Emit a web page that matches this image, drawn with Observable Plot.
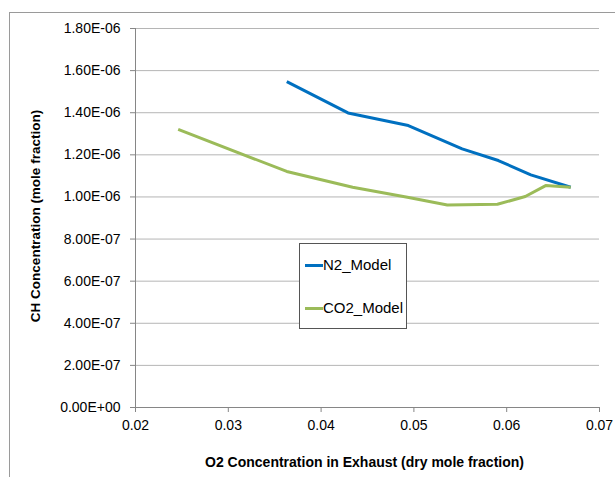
<!DOCTYPE html>
<html>
<head>
<meta charset="utf-8">
<script src="https://cdn.jsdelivr.net/npm/d3@7"></script>
<script src="https://cdn.jsdelivr.net/npm/@observablehq/plot@0.6"></script>
<style>
  html, body { margin: 0; padding: 0; background: #fff; }
  #wrap { position: relative; width: 615px; height: 477px; overflow: hidden; font-family: "Liberation Sans", Arial, sans-serif; }
  #border { position: absolute; left: 9px; top: 12px; width: 700px; height: 600px; border-left: 1px solid #9a9a9a; border-top: 1px solid #9a9a9a; }
  #chart { position: absolute; left: 0; top: 0; }
  #legend { position: absolute; left: 299px; top: 243px; width: 106px; height: 84px; border: 1px solid #555; background: #fff; font-size: 15px; color: #000; }
  .item { position: absolute; left: 5px; display: flex; align-items: center; line-height: 18px; }
  .sw { width: 18px; height: 3px; margin-right: 0px; }
</style>
</head>
<body>
<div id="wrap">
  <div id="border"></div>
  <div id="chart"></div>
  <div id="legend"></div>
</div>
<script>
const seriesNames = ["N2_Model", "CO2_Model"];
const seriesColors = ["#0070C0", "#9BBB59"];

const n2X = [0.0363, 0.0429, 0.0494, 0.0552, 0.0591, 0.0626, 0.0669];
const n2Y = [1.548e-6, 1.399e-6, 1.339e-6, 1.228e-6, 1.173e-6, 1.105e-6, 1.046e-6];

const co2X = [0.0246, 0.0363, 0.0434, 0.0493, 0.0536, 0.0590, 0.0620, 0.0642, 0.0669];
const co2Y = [1.321e-6, 1.121e-6, 1.046e-6, 0.999e-6, 0.962e-6, 0.965e-6, 1.002e-6, 1.054e-6, 1.046e-6];

const xTicks = [0.02, 0.03, 0.04, 0.05, 0.06, 0.07];
const yTicks = [0, 2e-7, 4e-7, 6e-7, 8e-7, 1e-6, 1.2e-6, 1.4e-6, 1.6e-6, 1.8e-6];

const xTitle = "O2 Concentration in Exhaust (dry mole fraction)";
const yTitle = "CH Concentration (mole fraction)";

const data = [
  ...n2X.map((x, i) => ({series: seriesNames[0], x, y: n2Y[i]})),
  ...co2X.map((x, i) => ({series: seriesNames[1], x, y: co2Y[i]}))
];

function fmtE(v) {
  const s = v.toExponential(2);
  const [m, e] = s.split("e");
  const n = parseInt(e, 10);
  return m + "E" + (n < 0 ? "-" : "+") + String(Math.abs(n)).padStart(2, "0");
}

const chart = Plot.plot({
  width: 615,
  height: 477,
  marginLeft: 135,
  marginRight: 16,
  marginTop: 28,
  marginBottom: 70,
  style: {fontFamily: "Liberation Sans, Arial, sans-serif", fontSize: "14px", background: "transparent", color: "#000"},
  x: {domain: [0.02, 0.07]},
  y: {domain: [0, 1.8e-6]},
  color: {domain: seriesNames, range: seriesColors},
  marks: [
    Plot.ruleY(yTicks, {stroke: "#b5b5b5", strokeWidth: 1}),
    Plot.ruleY([0], {stroke: "#868686", strokeWidth: 1}),
    Plot.ruleX([0.02], {stroke: "#868686", strokeWidth: 1}),
    Plot.axisY({ticks: yTicks, tickFormat: fmtE, tickSize: 5, tickPadding: 10, stroke: "#868686", fill: "#000", fontSize: 14, label: null}),
    Plot.axisX({ticks: xTicks, tickFormat: d => d.toFixed(2), tickSize: 5, tickPadding: 8, stroke: "#868686", fill: "#000", fontSize: 14, label: null}),
    Plot.line(data, {x: "x", y: "y", z: "series", stroke: "series", strokeWidth: 3, strokeLinejoin: "round", strokeLinecap: "butt"}),
    Plot.text([xTitle], {frameAnchor: "bottom", dx: -3, dy: 55, lineAnchor: "middle", fontWeight: "bold", fontSize: 14, fill: "#000"}),
    Plot.text([yTitle], {frameAnchor: "left", dx: -100, dy: -2, rotate: -90, textAnchor: "middle", lineAnchor: "middle", fontWeight: "bold", fontSize: 13.5, fill: "#000"})
  ]
});
document.getElementById("chart").appendChild(chart);

const legend = document.getElementById("legend");
const tops = [12, 55];
seriesNames.forEach((name, i) => {
  const item = document.createElement("div");
  item.className = "item";
  item.style.top = tops[i] + "px";
  const sw = document.createElement("div");
  sw.className = "sw";
  sw.style.background = seriesColors[i];
  const t = document.createElement("span");
  t.textContent = name;
  item.appendChild(sw);
  item.appendChild(t);
  legend.appendChild(item);
});
</script>
</body>
</html>
